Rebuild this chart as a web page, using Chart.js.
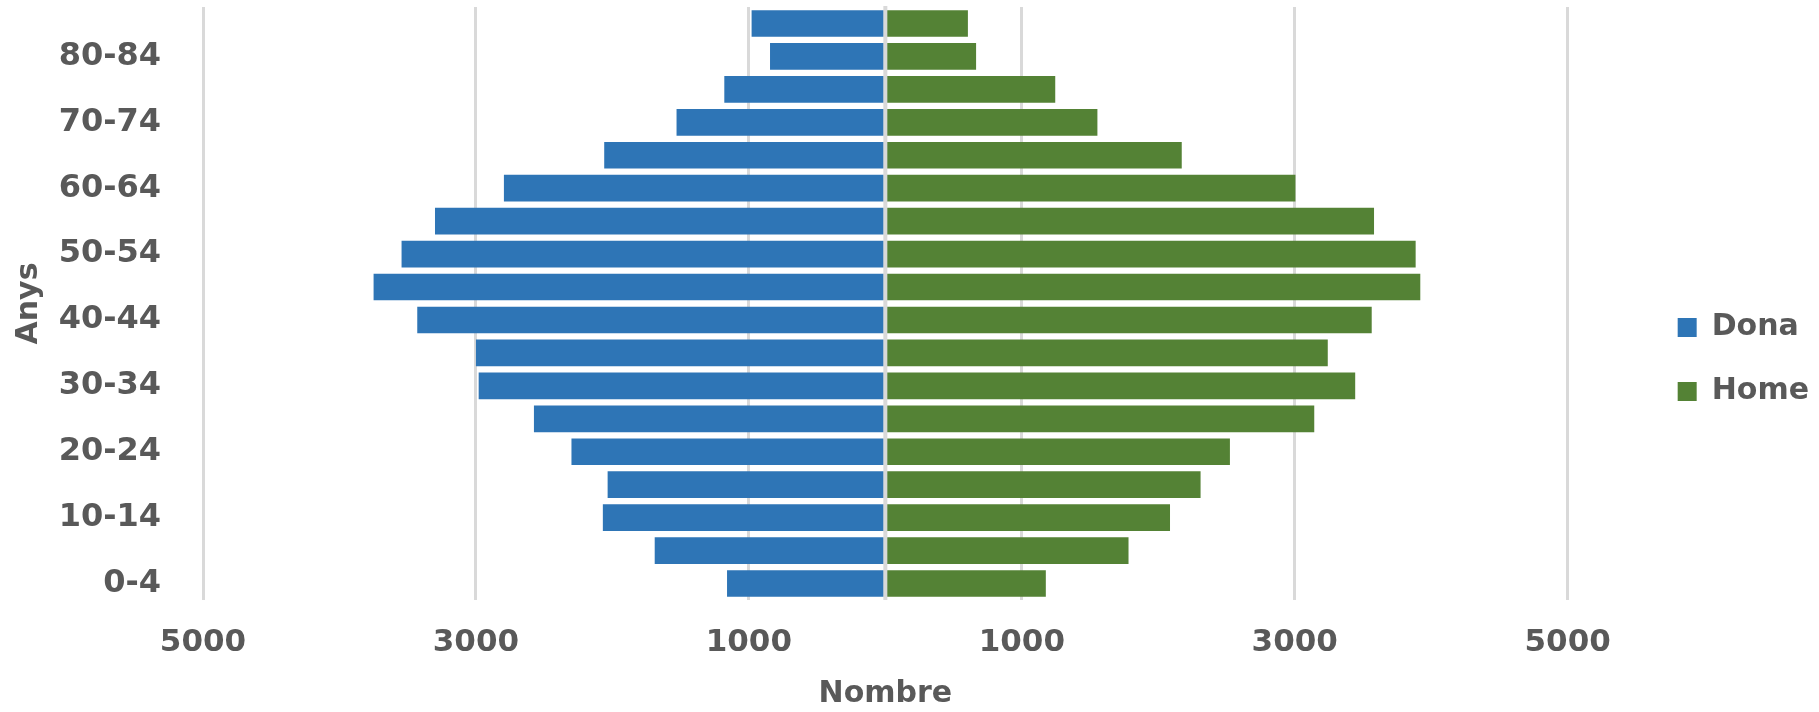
<!DOCTYPE html>
<html>
<head>
<meta charset="utf-8">
<script src="https://cdn.jsdelivr.net/npm/chart.js@4/dist/chart.umd.min.js"></script>
<style>
  html, body { margin: 0; padding: 0; background: #ffffff; }
  #wrap { width: 1819px; height: 712px; position: relative; }
</style>
</head>
<body>
<div id="wrap"><canvas id="piramide"></canvas></div>
<script>
// Age groups, youngest first (drawn bottom to top)
const grups = ['0-4', '5-9', '10-14', '15-19', '20-24', '25-29', '30-34', '35-39', '40-44',
               '45-49', '50-54', '55-59', '60-64', '65-69', '70-74', '75-79', '80-84', '85+'];

// Population by sex for each age group
const dona = [1160, 1690, 2070, 2035, 2300, 2575, 2980, 3000, 3430,
              3750, 3545, 3300, 2795, 2060, 1530, 1180, 845, 980];
const home = [1176, 1782, 2086, 2310, 2525, 3143, 3443, 3242, 3564,
              3920, 3886, 3581, 3005, 2172, 1554, 1245, 665, 605];

// Horizontal axis ticks (labels shown without sign)
const xTicks = [-5000, -3000, -1000, 0, 1000, 3000, 5000];

const textColor = '#595959';
const gridColor = '#D9D9D9';
const family = 'DejaVu Sans';
const fontTitle = { family, weight: 'bold', size: 30 };
const fontX = { family, weight: 'bold', size: 31 };
const fontY = { family, weight: 'bold', size: 32 };

// Vertical line at zero, drawn over the bars
const zeroLine = {
  id: 'zeroLine',
  afterDatasetsDraw(chart) {
    const { ctx, chartArea, scales } = chart;
    const x = scales.x.getPixelForValue(0);
    ctx.save();
    ctx.strokeStyle = gridColor;
    ctx.lineWidth = 4;
    ctx.beginPath();
    ctx.moveTo(x, chartArea.top - 1);
    ctx.lineTo(x, chartArea.bottom);
    ctx.stroke();
    ctx.restore();
  }
};

new Chart(document.getElementById('piramide'), {
  type: 'bar',
  data: {
    labels: grups,
    datasets: [
      { label: 'Dona', data: dona.map(v => -v), backgroundColor: '#2E75B6',
        categoryPercentage: 0.81, barPercentage: 1.0 },
      { label: 'Home', data: home, backgroundColor: '#548235',
        categoryPercentage: 0.81, barPercentage: 1.0 }
    ]
  },
  options: {
    indexAxis: 'y',
    responsive: true,
    maintainAspectRatio: false,
    devicePixelRatio: 1,
    animation: false,
    layout: { padding: { top: 7, right: 0, bottom: 0, left: 0 } },
    plugins: {
      tooltip: { enabled: false },
      legend: {
        position: 'right',
        labels: {
          color: textColor,
          font: fontTitle,
          boxWidth: 19,
          boxHeight: 19,
          padding: 34
        }
      }
    },
    scales: {
      x: {
        type: 'linear',
        stacked: true,
        min: -5000,
        max: 5000,
        afterBuildTicks(scale) {
          scale.ticks = xTicks.map(v => ({ value: v }));
        },
        afterFit(scale) { scale.height = 112; },
        ticks: {
          color: textColor,
          font: fontX,
          padding: 24,
          callback: v => (v === 0 ? '' : String(Math.abs(v)))
        },
        grid: {
          drawTicks: false,
          lineWidth: 3,
          color: ctx => (ctx.tick && ctx.tick.value === 0 ? 'rgba(0,0,0,0)' : gridColor)
        },
        border: { display: false },
        title: {
          display: true,
          text: 'Nombre',
          color: textColor,
          font: fontTitle,
          padding: { top: 0, bottom: 0 }
        }
      },
      y: {
        type: 'category',
        stacked: true,
        reverse: true,
        afterFit(scale) {
          scale.width = 203;
          // labels sit inside their rows, no extra room above or below
          scale.paddingTop = 0;
          scale.paddingBottom = 0;
        },
        ticks: {
          color: textColor,
          font: fontY,
          padding: 0,
          autoSkip: false,
          // every second age group is labelled
          callback(value, index) { return index % 2 === 0 ? this.getLabelForValue(value) : null; }
        },
        grid: { display: false, drawTicks: true, tickLength: 42 },
        border: { display: false },
        title: {
          display: true,
          text: 'Anys',
          color: textColor,
          font: fontTitle,
          padding: { top: 11, bottom: 0 }
        }
      },
      gap: {
        type: 'linear',
        position: 'right',
        display: true,
        afterFit(scale) { scale.width = 76; },
        ticks: { display: false },
        grid: { display: false, drawTicks: false },
        border: { display: false }
      }
    }
  },
  plugins: [zeroLine]
});
</script>
</body>
</html>
